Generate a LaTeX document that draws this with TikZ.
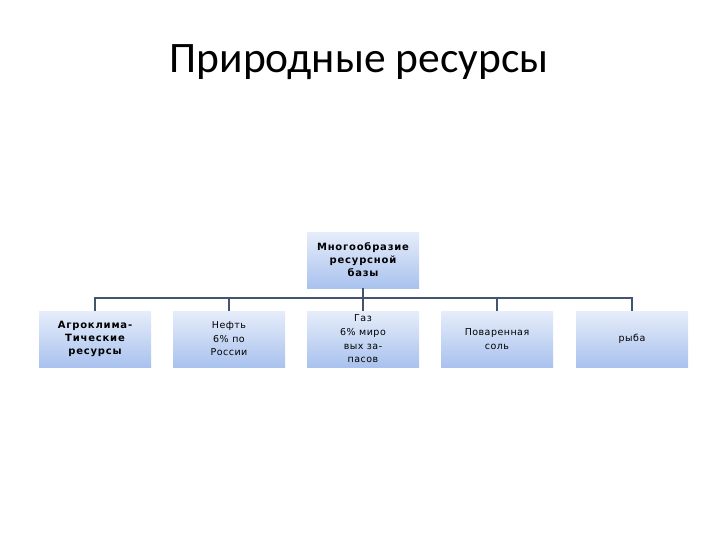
\documentclass[tikz,border=0pt]{standalone}
\usepackage{fontspec}
\setmainfont{Carlito}
\newfontfamily\boxfont[LetterSpace=5]{DejaVu Sans}
\newfontfamily\boxbold[LetterSpace=8]{DejaVu Sans Bold}
\definecolor{lineblue}{HTML}{44546F}
\definecolor{boxtop}{HTML}{E6EDFA}
\definecolor{boxbot}{HTML}{A9C2EE}
\tikzset{
  rbox/.style={minimum width=112pt, minimum height=56pt, inner sep=1pt,
    top color=boxtop, bottom color=boxbot, draw=none, align=center,
    font=\boxfont\fontsize{9.5}{13.6}\selectfont, text=black},
  bbox/.style={rbox, font=\boxbold\fontsize{10}{13}\selectfont},
  conn/.style={draw=lineblue, line width=1.8pt}
}
\begin{document}
\begin{tikzpicture}[x=1pt,y=-1pt]
\useasboundingbox (0,0) rectangle (720,540);
\node[font=\fontsize{43.5}{50}\selectfont] (title) at (359,62) {Природные ресурсы};
\node[bbox] (top) at (363,260) {Многообразие\\ресурсной\\базы};
\node[bbox] (a) at (95,339) {Агроклима-\\Тические\\ресурсы};
\node[rbox] (b) at (229,339) {Нефть\\6\% по\\России};
\node[rbox] (c) at (363,339) {Газ\\6\% миро\\вых за-\\пасов};
\node[rbox] (d) at (497,339) {Поваренная\\соль};
\node[rbox] (e) at (632,339) {рыба};
\coordinate (bus) at (363,298);
\draw[conn] (top.south) -- (c.north);
\draw[conn] (a.north) -- (a.north |- bus) -- (e.north |- bus) -- (e.north);
\draw[conn] (b.north) -- (b.north |- bus);
\draw[conn] (d.north) -- (d.north |- bus);
\end{tikzpicture}
\end{document}
